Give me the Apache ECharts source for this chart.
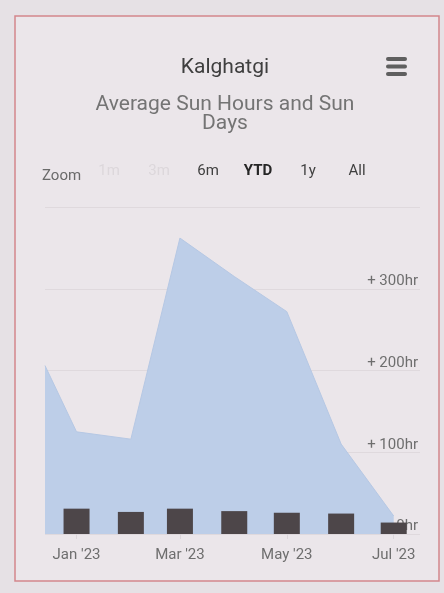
<!DOCTYPE html>
<html lang="en">
<head>
    <meta charset="UTF-8">
    <title>Kalghatgi - Average Sun Hours and Sun Days</title>
    <style>
        html, body { margin: 0; padding: 0; background: #e6e1e5; }
        #chart { width: 444px; height: 593px; }
    </style>
</head>
<body>
    <div id="chart"></div>
    <script src="https://cdn.jsdelivr.net/npm/echarts@6/dist/echarts.min.js"></script>
    <script>
        // sun hours (area), first point is where the view starts
        var hourDates = ['2022-12-14', '2023-01-01', '2023-02-01', '2023-03-01', '2023-04-01', '2023-05-01', '2023-06-01', '2023-07-01'];
        var sunHours = [206, 125, 116, 362, 315, 272, 110, 22];
        // sun days (columns)
        var dayDates = ['2023-01-01', '2023-02-01', '2023-03-01', '2023-04-01', '2023-05-01', '2023-06-01', '2023-07-01'];
        var sunDays = [31, 27, 31, 28, 26, 25, 14];
        var labelDates = ['2023-01-01', '2023-03-01', '2023-05-01', '2023-07-01'];
        var zoomButtons = ['1m', '3m', '6m', 'YTD', '1y', 'All'];
        var monthNames = ['Jan', 'Feb', 'Mar', 'Apr', 'May', 'Jun', 'Jul', 'Aug', 'Sep', 'Oct', 'Nov', 'Dec'];

        function toTime(s) {
            var p = s.split('-');
            return new Date(+p[0], +p[1] - 1, +p[2]).getTime();
        }

        var hourData = hourDates.map(function (d, i) { return [toTime(d), sunHours[i]]; });
        var dayData = dayDates.map(function (d, i) { return [toTime(d), sunDays[i]]; });

        var font = 'Roboto, "Noto Sans", sans-serif';
        var graphics = [
            { type: 'rect', shape: { x: 15, y: 16, width: 424, height: 565 }, style: { fill: '#ebe6ea', stroke: '#d4868c', lineWidth: 1.5 }, z: -10 },
            { type: 'text', x: 225, y: 68, style: { text: 'Kalghatgi', font: '21px ' + font, fill: '#3f3f3f', align: 'center', verticalAlign: 'middle' } },
            { type: 'text', x: 225, y: 105, style: { text: 'Average Sun Hours and Sun', font: '21px ' + font, fill: '#747474', align: 'center', verticalAlign: 'middle' } },
            { type: 'text', x: 225, y: 124, style: { text: 'Days', font: '21px ' + font, fill: '#747474', align: 'center', verticalAlign: 'middle' } },
            { type: 'text', x: 42, y: 176, style: { text: 'Zoom', font: '15px ' + font, fill: '#6a6a6a', align: 'left', verticalAlign: 'middle' } }
        ];
        // menu icon
        [57, 64.5, 72].forEach(function (y) {
            graphics.push({ type: 'rect', shape: { x: 386, y: y, width: 21, height: 4, r: 2 }, style: { fill: '#5f5f5f' } });
        });
        var btnX = [109, 159, 208, 258, 308, 357];
        zoomButtons.forEach(function (b, i) {
            var faint = i < 2;
            graphics.push({
                type: 'text', x: btnX[i], y: 171,
                style: {
                    text: b, align: 'center', verticalAlign: 'middle',
                    font: (b === 'YTD' ? 'bold ' : '') + '15px ' + font,
                    fill: faint ? '#dcd7db' : (b === 'YTD' ? '#262626' : '#404040')
                }
            });
        });

        var chart = echarts.init(document.getElementById('chart'));
        chart.setOption({
            backgroundColor: '#e6e1e5',
            animation: false,
            graphic: graphics,
            grid: { left: 45, right: 24, top: 207, bottom: 59 },
            xAxis: {
                type: 'value',
                min: toTime('2022-12-14'),
                max: toTime('2023-07-16'),
                axisLine: { show: false },
                axisTick: { show: true, length: 5, lineStyle: { color: '#dcd6db' }, customValues: labelDates.map(toTime) },
                splitLine: { show: false },
                axisLabel: {
                    customValues: labelDates.map(toTime),
                    margin: 14,
                    fontSize: 15,
                    fontFamily: font,
                    color: '#6e6e6e',
                    formatter: function (v) {
                        var d = new Date(v);
                        return monthNames[d.getMonth()] + " '" + String(d.getFullYear()).slice(2);
                    }
                }
            },
            yAxis: [{
                type: 'value',
                position: 'right',
                min: 0, max: 400, interval: 100,
                axisLine: { show: false },
                axisTick: { show: false },
                splitLine: { lineStyle: { color: '#dfd9dd', width: 1 } },
                axisLabel: {
                    inside: true,
                    margin: 2,
                    verticalAlign: 'bottom',
                    fontSize: 15,
                    fontFamily: font,
                    color: '#6e6e6e',
                    formatter: function (v) { return v === 400 ? '' : '+ ' + v + 'hr'; }
                }
            }, {
                type: 'value',
                min: 0, max: 400,
                show: false
            }],
            series: [{
                name: 'Sun Hours',
                type: 'line',
                data: hourData,
                symbol: 'none',
                lineStyle: { color: '#b6c8e4', width: 1 },
                areaStyle: { color: '#bdcee8', opacity: 1 },
                z: 2
            }, {
                name: 'Sun Days',
                type: 'bar',
                yAxisIndex: 1,
                data: dayData,
                barWidth: 26,
                itemStyle: { color: '#4d4649' },
                z: 3
            }]
        });
    </script>
</body>
</html>
